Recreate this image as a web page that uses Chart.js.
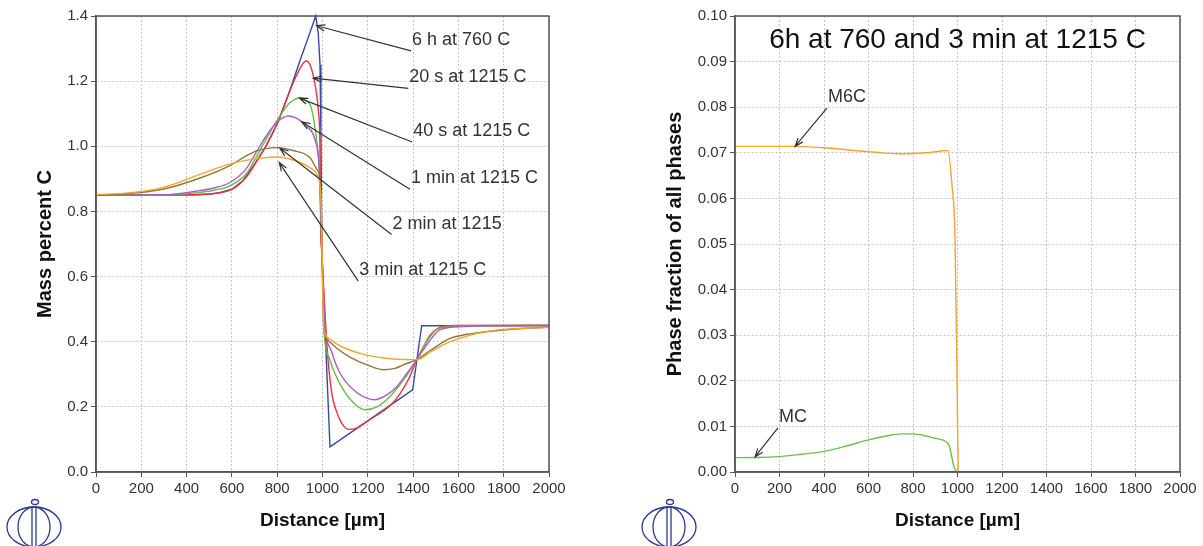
<!DOCTYPE html>
<html lang="en">
<head>
<meta charset="UTF-8">
<title>Carbon profiles and phase fractions</title>
<script src="https://cdn.jsdelivr.net/npm/chart.js@4.4.1/dist/chart.umd.min.js"></script>
<style>
  html, body { margin: 0; padding: 0; background: #fff; }
  .panel { position: absolute; top: 0; height: 546px; }
</style>
</head>
<body>
<div class="panel" style="left:0;width:600px"><canvas id="left" width="600" height="546"></canvas></div>
<div class="panel" style="left:600px;width:603px"><canvas id="right" width="603" height="546"></canvas></div>
<script>
const FONT = "'Liberation Sans', Arial, sans-serif";

// ---- left: mass percent C vs distance (µm)
const x6h = [0, 300, 450, 500, 550, 600, 650, 700, 750, 800, 850, 900, 940, 970, 981, 989, 993, 997, 1033, 1398, 1438, 2000];
const c6h = [0.85, 0.85, 0.851, 0.853, 0.858, 0.868, 0.895, 0.945, 1.0, 1.07, 1.16, 1.262, 1.34, 1.40, 1.35, 1.25, 1.04, 0.68, 0.077, 0.252, 0.449, 0.45];

const x20s = [0, 300, 450, 600, 662, 706, 750, 809, 850, 880, 910, 927, 945, 967, 981, 989, 992, 996, 1004, 1021, 1041, 1060, 1077, 1095, 1114, 1150, 1200, 1300, 1342, 1380, 1416, 1450, 1475, 1533, 1600, 2000];
const c20s = [0.85, 0.85, 0.852, 0.868, 0.904, 0.95, 1.0, 1.083, 1.16, 1.21, 1.25, 1.262, 1.25, 1.19, 1.114, 0.99, 0.735, 0.683, 0.58, 0.375, 0.242, 0.19, 0.16, 0.14, 0.131, 0.135, 0.157, 0.205, 0.24, 0.285, 0.345, 0.39, 0.42, 0.447, 0.45, 0.45];

const x40s = [0, 300, 441, 520, 589, 662, 706, 750, 800, 850, 880, 900, 925, 952, 974, 985, 992, 1000, 1007, 1030, 1050, 1092, 1140, 1188, 1240, 1298, 1360, 1416, 1460, 1504, 1560, 1636, 2000];
const c40s = [0.85, 0.85, 0.857, 0.865, 0.878, 0.914, 0.965, 1.02, 1.08, 1.13, 1.145, 1.15, 1.142, 1.114, 1.02, 0.94, 0.8, 0.6, 0.43, 0.35, 0.31, 0.252, 0.21, 0.191, 0.2, 0.232, 0.285, 0.345, 0.40, 0.437, 0.446, 0.449, 0.45];

const x1min = [0, 300, 441, 520, 589, 662, 706, 750, 800, 849, 880, 930, 967, 985, 993, 1000, 1011, 1040, 1077, 1150, 1232, 1280, 1328, 1370, 1416, 1470, 1519, 1600, 1710, 2000];
const c1min = [0.85, 0.851, 0.862, 0.872, 0.888, 0.93, 0.98, 1.03, 1.075, 1.093, 1.088, 1.062, 1.02, 0.94, 0.8, 0.62, 0.458, 0.37, 0.304, 0.245, 0.222, 0.235, 0.262, 0.30, 0.345, 0.40, 0.437, 0.446, 0.449, 0.45];

const x2min = [0, 147, 294, 441, 589, 662, 706, 750, 805, 870, 945, 974, 989, 995, 1000, 1006, 1020, 1063, 1121, 1200, 1268, 1320, 1357, 1416, 1480, 1563, 1660, 1784, 2000];
const c2min = [0.85, 0.855, 0.868, 0.898, 0.94, 0.97, 0.985, 0.993, 0.996, 0.987, 0.965, 0.93, 0.898, 0.8, 0.6, 0.44, 0.408, 0.38, 0.353, 0.328, 0.314, 0.318, 0.329, 0.345, 0.375, 0.41, 0.425, 0.435, 0.445];

const x3min = [0, 147, 294, 441, 589, 706, 800, 870, 945, 974, 989, 995, 1000, 1006, 1025, 1060, 1100, 1200, 1313, 1416, 1480, 1563, 1680, 1784, 2000];
const c3min = [0.852, 0.857, 0.873, 0.909, 0.945, 0.962, 0.967, 0.958, 0.934, 0.914, 0.878, 0.8, 0.6, 0.44, 0.412, 0.394, 0.38, 0.358, 0.347, 0.345, 0.37, 0.40, 0.425, 0.437, 0.444];

// ---- right: phase fractions after 6h at 760 and 3 min at 1215 C
const xM6C = [0, 262, 397, 562, 660, 756, 860, 957, 975, 989, 998, 1003];
const fM6C = [0.0714, 0.0714, 0.0711, 0.0704, 0.0700, 0.0698, 0.0700, 0.0705, 0.063, 0.051, 0.02, 0];

const xMC = [0, 100, 195, 300, 394, 500, 595, 680, 749, 794, 850, 899, 959, 967, 974, 982, 989, 1000];
const fMC = [0.00315, 0.00318, 0.00337, 0.0039, 0.00447, 0.0057, 0.0070, 0.0079, 0.00835, 0.00835, 0.0080, 0.0074, 0.00615, 0.005, 0.0034, 0.0015, 0.0006, 0];

// ---- labels with arrows (data coordinates)
const leftNoteText = ['6 h at 760 C', '20 s at 1215 C', '40 s at 1215 C', '1 min at 1215 C', '2 min at 1215', '3 min at 1215 C'];
const leftNoteTip = [[974, 1.370], [959, 1.209], [898, 1.148], [908, 1.075], [812, 0.994], [809, 0.950]];
const leftNoteTail = [[1391, 1.293], [1379, 1.178], [1396, 1.013], [1386, 0.868], [1305, 0.729], [1158, 0.586]];

const rightNoteText = ['M6C', 'MC'];
const rightNoteTip = [[270, 0.0714], [90, 0.0033]];
const rightNoteTail = [[413, 0.0798], [193, 0.0097]];

function pts(xs, ys) { return xs.map((x, i) => ({ x: x, y: ys[i] })); }

function series(label, xs, ys, color, straight) {
  return {
    label: label, data: pts(xs, ys), borderColor: color, backgroundColor: color,
    borderWidth: 1.4, pointRadius: 0, showLine: true, fill: false,
    cubicInterpolationMode: straight ? 'default' : 'monotone', tension: 0, clip: 4
  };
}

// frame round the plot area
const framePlugin = {
  id: 'frame',
  afterDraw(chart) {
    const a = chart.chartArea, ctx = chart.ctx;
    ctx.save();
    ctx.strokeStyle = '#555';
    ctx.lineWidth = 1.5;
    ctx.strokeRect(a.left, a.top, a.right - a.left, a.bottom - a.top);
    ctx.restore();
  }
};

// arrow labels
const notesPlugin = {
  id: 'notes',
  afterDatasetsDraw(chart, args, opts) {
    if (!opts.text) return;
    const ctx = chart.ctx, sx = chart.scales.x, sy = chart.scales.y;
    ctx.save();
    ctx.strokeStyle = '#333';
    ctx.fillStyle = '#333';
    ctx.lineWidth = 1.2;
    ctx.font = opts.size + 'px ' + FONT;
    ctx.textBaseline = 'middle';
    ctx.textAlign = 'left';
    opts.text.forEach((t, i) => {
      const x1 = sx.getPixelForValue(opts.tail[i][0]), y1 = sy.getPixelForValue(opts.tail[i][1]);
      const x2 = sx.getPixelForValue(opts.tip[i][0]), y2 = sy.getPixelForValue(opts.tip[i][1]);
      ctx.beginPath();
      ctx.moveTo(x1, y1);
      ctx.lineTo(x2, y2);
      const ang = Math.atan2(y2 - y1, x2 - x1);
      ctx.moveTo(x2 - 9 * Math.cos(ang - 0.35), y2 - 9 * Math.sin(ang - 0.35));
      ctx.lineTo(x2, y2);
      ctx.lineTo(x2 - 9 * Math.cos(ang + 0.35), y2 - 9 * Math.sin(ang + 0.35));
      ctx.stroke();
      ctx.fillText(t, x1 + 1, y1 - 11);
    });
    ctx.restore();
  }
};

// small logo in the lower left corner
const logoPlugin = {
  id: 'logo',
  afterDraw(chart, args, opts) {
    const ctx = chart.ctx, cx = opts.cx, cy = 527;
    ctx.save();
    ctx.strokeStyle = '#2b3990';
    ctx.lineWidth = 1.3;
    ctx.beginPath(); ctx.ellipse(cx, cy, 27, 20, 0, 0, Math.PI * 2); ctx.stroke();
    ctx.beginPath(); ctx.ellipse(cx, cy, 16, 20, 0, 0, Math.PI * 2); ctx.stroke();
    ctx.beginPath();
    ctx.moveTo(cx - 2, cy - 21); ctx.lineTo(cx - 2, 546);
    ctx.moveTo(cx + 2, cy - 21); ctx.lineTo(cx + 2, 546);
    ctx.stroke();
    ctx.beginPath(); ctx.ellipse(cx + 1, cy - 25, 3.5, 2.5, 0, 0, Math.PI * 2); ctx.stroke();
    ctx.restore();
  }
};

// title written inside the plot area
const insideTitlePlugin = {
  id: 'insideTitle',
  afterDraw(chart, args, opts) {
    if (!opts.text) return;
    const a = chart.chartArea, ctx = chart.ctx;
    ctx.save();
    ctx.fillStyle = '#111';
    ctx.font = '28px ' + FONT;
    ctx.textAlign = 'center';
    ctx.textBaseline = 'middle';
    ctx.fillText(opts.text, (a.left + a.right) / 2, a.top + 24);
    ctx.restore();
  }
};

function axisX() {
  return {
    type: 'linear', min: 0, max: 2000,
    ticks: { stepSize: 200, autoSkip: false, maxRotation: 0, padding: 3, color: '#333',
             font: { family: FONT, size: 15 }, callback: v => String(v) },
    grid: { color: '#c4c4c4', tickColor: '#555', tickLength: 5, tickBorderDash: [] },
    border: { color: '#555', width: 1.5, dash: [2, 2] },
    title: { display: true, text: 'Distance [µm]', color: '#111',
             font: { family: FONT, size: 19, weight: 'bold' }, padding: { top: 0, bottom: 13.6 } },
    afterFit: s => { s.height = 74; }
  };
}

function axisY(max, step, digits, title, width, titleX) {
  return {
    type: 'linear', min: 0, max: max,
    ticks: { stepSize: step, padding: 3, color: '#333',
             font: { family: FONT, size: 15 }, callback: v => v.toFixed(digits) },
    grid: { color: '#c4c4c4', tickColor: '#555', tickLength: 5, tickBorderDash: [] },
    border: { color: '#555', width: 1.5, dash: [2, 2] },
    title: { display: true, text: title, color: '#111',
             font: { family: FONT, size: 20, weight: 'bold' }, padding: { top: titleX - 12, bottom: 0 } },
    afterFit: s => { s.width = width; }
  };
}

new Chart(document.getElementById('left'), {
  type: 'scatter',
  data: {
    datasets: [
      series('6 h at 760 C', x6h, c6h, '#3a4aa0', true),
      series('20 s at 1215 C', x20s, c20s, '#e8333c'),
      series('40 s at 1215 C', x40s, c40s, '#62bb47'),
      series('1 min at 1215 C', x1min, c1min, '#aa5cc8'),
      series('2 min at 1215', x2min, c2min, '#8a7a3c'),
      series('3 min at 1215 C', x3min, c3min, '#f7a428')
    ].reverse()
  },
  options: {
    responsive: false, animation: false, devicePixelRatio: 1,
    layout: { padding: { left: 0, top: 16, right: 51, bottom: 0 } },
    plugins: {
      legend: { display: false }, tooltip: { enabled: false },
      notes: { text: leftNoteText, tip: leftNoteTip, tail: leftNoteTail, size: 18 },
      logo: { cx: 34 }
    },
    scales: { x: axisX(), y: axisY(1.4, 0.2, 1, 'Mass percent C', 96, 45) }
  },
  plugins: [framePlugin, notesPlugin, logoPlugin]
});

new Chart(document.getElementById('right'), {
  type: 'scatter',
  data: {
    datasets: [
      series('M6C', xM6C, fM6C, '#f7a428'),
      series('MC', xMC, fMC, '#6cbf4f')
    ]
  },
  options: {
    responsive: false, animation: false, devicePixelRatio: 1,
    layout: { padding: { left: 0, top: 16, right: 23, bottom: 0 } },
    plugins: {
      legend: { display: false }, tooltip: { enabled: false },
      notes: { text: rightNoteText, tip: rightNoteTip, tail: rightNoteTail, size: 18 },
      logo: { cx: 69 },
      insideTitle: { text: '6h at 760 and 3 min at 1215 C' }
    },
    scales: { x: axisX(), y: axisY(0.1, 0.01, 2, 'Phase fraction of all phases', 135, 75) }
  },
  plugins: [framePlugin, notesPlugin, logoPlugin, insideTitlePlugin]
});
</script>
</body>
</html>
